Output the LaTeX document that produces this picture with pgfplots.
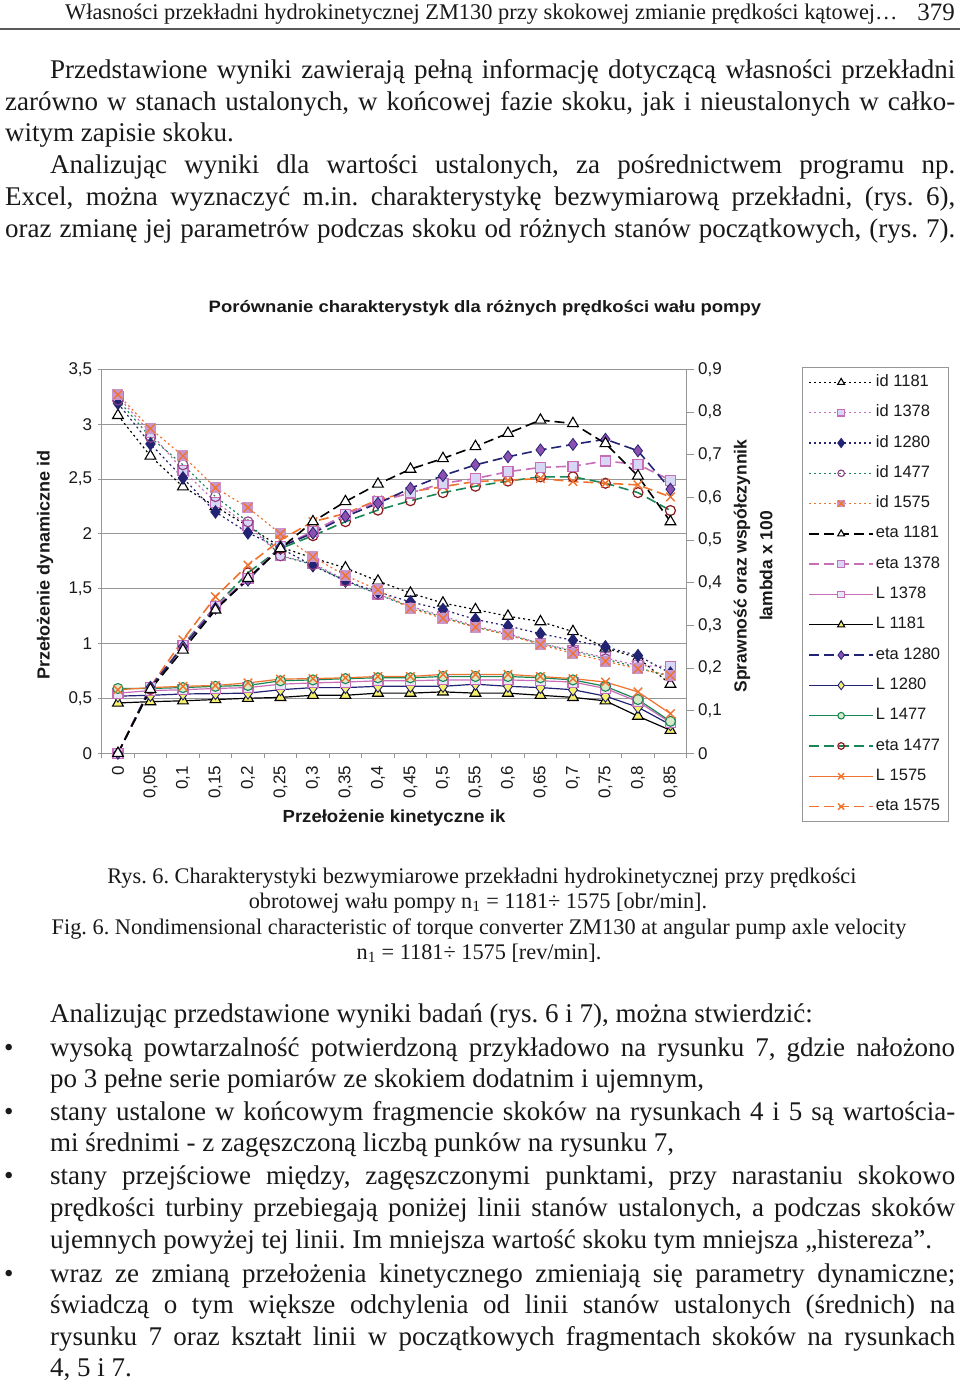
\documentclass[border=0pt]{standalone}
\usepackage{fontspec}
\setmainfont{Liberation Serif}
\newfontfamily\arial{Liberation Sans}
\usepackage{graphicx}
\usepackage{pgfplots}
\usepackage{pgfplotstable}
\pgfplotsset{compat=1.18}

\definecolor{c1378}{RGB}{200,110,185}
\definecolor{c1280}{RGB}{35,35,115}
\definecolor{c1477}{RGB}{25,135,85}
\definecolor{c1575}{RGB}{240,115,45}
\definecolor{axgray}{RGB}{150,150,150}
\definecolor{sqpink}{RGB}{200,150,205}
\definecolor{lav}{RGB}{215,215,245}
\definecolor{purp}{RGB}{140,80,175}
\definecolor{yel}{RGB}{245,240,110}
\definecolor{dred}{RGB}{140,25,30}
\definecolor{lgreen}{RGB}{215,235,200}
\definecolor{txt}{RGB}{25,25,25}

\pgfdeclareplotmark{sqx}{%
  \pgfsetfillcolor{sqpink}%
  \pgfpathrectangle{\pgfqpoint{-\pgfplotmarksize}{-\pgfplotmarksize}}{\pgfqpoint{2\pgfplotmarksize}{2\pgfplotmarksize}}%
  \pgfusepath{fill}%
  \pgfsetstrokecolor{c1575}%
  \pgfpathmoveto{\pgfqpoint{-.8\pgfplotmarksize}{-.8\pgfplotmarksize}}\pgfpathlineto{\pgfqpoint{.8\pgfplotmarksize}{.8\pgfplotmarksize}}%
  \pgfpathmoveto{\pgfqpoint{-.8\pgfplotmarksize}{.8\pgfplotmarksize}}\pgfpathlineto{\pgfqpoint{.8\pgfplotmarksize}{-.8\pgfplotmarksize}}%
  \pgfusepath{stroke}%
}

\pgfplotstableread{
x i1181 i1378 i1280 i1477 i1575
0 3.08 3.25 3.19 3.22 3.27
1 2.71 2.92 2.82 2.88 2.96
2 2.43 2.58 2.51 2.63 2.71
3 2.25 2.29 2.20 2.34 2.42
4 2.07 2.08 2.01 2.11 2.24
5 1.88 1.80 1.87 1.80 2.00
6 1.78 1.73 1.71 1.72 1.79
7 1.69 1.58 1.57 1.57 1.62
8 1.57 1.45 1.47 1.45 1.49
9 1.46 1.34 1.38 1.33 1.32
10 1.37 1.25 1.31 1.24 1.23
11 1.31 1.16 1.22 1.15 1.15
12 1.25 1.09 1.16 1.08 1.08
13 1.20 1.00 1.09 1.00 0.99
14 1.11 0.94 1.03 0.93 0.91
15 0.96 0.87 0.97 0.86 0.84
16 0.87 0.80 0.89 0.78 0.77
17 0.63 0.79 0.73 0.70 0.71
}\idtab

\pgfplotstableread{
x e1181 e1378 e1280 e1477 e1575
0 0 0 0 0 0
1 0.150 0.155 0.155 0.150 0.156
2 0.242 0.252 0.250 0.254 0.266
3 0.336 0.345 0.340 0.345 0.367
4 0.410 0.410 0.406 0.423 0.441
5 0.480 0.484 0.484 0.480 0.500
6 0.543 0.520 0.516 0.510 0.543
7 0.590 0.560 0.555 0.543 0.562
8 0.631 0.590 0.586 0.570 0.594
9 0.666 0.610 0.621 0.592 0.613
10 0.691 0.633 0.651 0.611 0.625
11 0.719 0.644 0.676 0.626 0.637
12 0.750 0.660 0.695 0.638 0.640
13 0.781 0.670 0.711 0.648 0.644
14 0.773 0.673 0.724 0.648 0.637
15 0.726 0.685 0.736 0.633 0.633
16 0.650 0.677 0.709 0.611 0.629
17 0.543 0.640 0.619 0.569 0.601
}\etatab

\pgfplotstableread{
x l1181 l1378 l1280 l1477 l1575
0 0.118 0.141 0.134 0.152 0.149
1 0.121 0.147 0.136 0.152 0.154
2 0.123 0.149 0.139 0.154 0.157
3 0.126 0.152 0.140 0.157 0.159
4 0.129 0.154 0.141 0.159 0.165
5 0.131 0.162 0.149 0.170 0.174
6 0.136 0.165 0.154 0.172 0.175
7 0.136 0.167 0.154 0.175 0.177
8 0.141 0.170 0.157 0.177 0.180
9 0.141 0.170 0.157 0.177 0.180
10 0.144 0.172 0.157 0.180 0.185
11 0.141 0.172 0.162 0.180 0.185
12 0.141 0.172 0.157 0.180 0.185
13 0.136 0.170 0.154 0.177 0.180
14 0.131 0.167 0.149 0.172 0.175
15 0.123 0.152 0.134 0.157 0.167
16 0.087 0.121 0.108 0.126 0.144
17 0.054 0.072 0.067 0.075 0.093
}\ltab

\pgfplotsset{
  dotl/.style={line width=1.2pt, dash pattern=on 2pt off 3pt},
  dashl/.style={line width=1.6pt, dash pattern=on 10pt off 5pt},
  solidl/.style={line width=1.2pt, solid},
  sId1181/.style={dotl, color=black, mark=triangle*, mark size=6.2pt, mark options={solid, fill=white, draw=black, line width=1.1pt}},
  sId1378/.style={dotl, color=c1378, mark=square*, mark size=5pt, mark options={solid, fill=lav, draw=c1378, line width=1.1pt}},
  sId1280/.style={dotl, color=c1280, mark=diamond*, mark size=6pt, mark options={solid, fill=c1280, draw=c1280}},
  sId1477/.style={dotl, color=c1477, mark=o, mark size=5pt, mark options={solid, draw=purp!70!dred, fill=white, line width=1.1pt}},
  sId1575/.style={dotl, color=c1575, mark=sqx, mark size=5.5pt, mark options={solid, line width=1.3pt}},
  sE1181/.style={dashl, color=black, mark=triangle*, mark size=6.2pt, mark options={solid, fill=white, draw=black, line width=1.1pt}},
  sE1378/.style={dashl, color=c1378, mark=square*, mark size=5pt, mark options={solid, fill=lav, draw=c1378, line width=1.1pt}},
  sE1280/.style={dashl, color=c1280, mark=diamond*, mark size=6pt, mark options={solid, fill=purp, draw=c1280, line width=0.8pt}},
  sE1477/.style={dashl, color=c1477, mark=o, mark size=5pt, mark options={solid, draw=dred, fill=white, line width=1.2pt}},
  sE1575/.style={dashl, color=c1575, mark=x, mark size=6pt, mark options={solid, draw=c1575, line width=1.4pt}},
  sL1378/.style={solidl, color=c1378, mark=square*, mark size=5pt, mark options={solid, fill=lav!60!white, draw=c1378, line width=1.1pt}},
  sL1181/.style={solidl, color=black, mark=triangle*, mark size=6.2pt, mark options={solid, fill=yel, draw=black, line width=1.1pt}},
  sL1280/.style={solidl, color=c1280, mark=diamond*, mark size=6pt, mark options={solid, fill=yel, draw=c1280, line width=0.9pt}},
  sL1477/.style={solidl, color=c1477, mark=*, mark size=5pt, mark options={solid, fill=lgreen, draw=c1477, line width=1.1pt}},
  sL1575/.style={solidl, color=c1575, mark=x, mark size=6pt, mark options={solid, draw=c1575, line width=1.4pt}},
}

\newcommand\body{\fontsize{27}{32}\selectfont}
\newcommand\capt{\fontsize{22.3}{26}\selectfont}
\newcommand\tl{\arial\fontsize{17}{20}\selectfont}
\newcommand\lab{\arial\bfseries\fontsize{17.5}{20}\selectfont}

\begin{document}
\frenchspacing
\begin{tikzpicture}[x=1pt,y=1pt]
\path[use as bounding box] (0,0) rectangle (960,-1380);
\fill[white] (0,0) rectangle (960,-1380);

% header
\node[anchor=base west, inner sep=0pt, text=txt] at (65,-20) {\fontsize{22.4}{26}\selectfont Własności przekładni hydrokinetycznej ZM130 przy skokowej zmianie prędkości kątowej…};
\node[anchor=base east, inner sep=0pt, text=txt] at (955,-21) {\fontsize{25}{28}\selectfont 379};
\draw[line width=2pt, black!65] (0,-29.5) -- (960,-29.5);

% top paragraphs
\begin{scope}[every node/.style={anchor=base west, inner sep=0pt, text=txt, font=\body}]
\node at (50,-79) {\makebox[905pt][s]{Przedstawione wyniki zawierają pełną informację dotyczącą własności przekładni}};
\node at (5,-110.5) {\makebox[950pt][s]{zarówno w stanach ustalonych, w końcowej fazie skoku, jak i nieustalonych w całko-}};
\node at (5,-142) {witym zapisie skoku.};
\node at (50,-174) {\makebox[905pt][s]{Analizując wyniki dla wartości ustalonych, za pośrednictwem programu np.}};
\node at (5,-205.5) {\makebox[950pt][s]{Excel, można wyznaczyć m.in. charakterystykę bezwymiarową przekładni, (rys. 6),}};
\node at (5,-237) {\makebox[950pt][s]{oraz zmianę jej parametrów podczas skoku od różnych stanów początkowych, (rys. 7).}};
\end{scope}

% chart texts
\node[font=\arial\bfseries\fontsize{16.5}{19}\selectfont, text=txt] at (485,-308) {\scalebox{1.12}[1]{Porównanie charakterystyk dla różnych prędkości wału pompy}};
\node[rotate=90, font=\lab, text=txt] at (45,-565) {\scalebox{1.03}[1]{Przełożenie dynamiczne id}};
\node[rotate=90, font=\lab, text=txt] at (742,-566) {Sprawność oraz współczynnik};
\node[rotate=90, font=\lab, text=txt] at (766,-566) {lambda x 100};
\node[font=\lab, text=txt] at (394,-818) {\scalebox{1.06}[1]{Przełożenie kinetyczne ik}};

\begin{axis}[
  at={(101.7pt,-753.3pt)}, anchor=south west,
  scale only axis, width=585pt, height=384pt,
  xmin=-0.5, xmax=17.5, ymin=0, ymax=3.5,
  axis line style={draw=axgray, line width=1pt},
  tick align=outside, tick pos=left,
  xtick={0,...,17},
  xticklabels={0,{0,05},{0,1},{0,15},{0,2},{0,25},{0,3},{0,35},{0,4},{0,45},{0,5},{0,55},{0,6},{0,65},{0,7},{0,75},{0,8},{0,85}},
  major x tick style={draw=none},
  minor xtick={-0.5,0.5,...,17.5},
  minor tick length=5pt,
  minor x tick style={draw=axgray, line width=0.9pt},
  ytick={0,0.5,1,1.5,2,2.5,3,3.5},
  major tick length=4pt,
  major y tick style={draw=axgray, line width=0.9pt},
  ymajorgrids, grid style={draw=axgray, line width=0.9pt},
  /pgf/number format/use comma,
  /pgf/number format/assume math mode=true,
  yticklabel style={font=\tl, text=txt, xshift=-2pt},
  xticklabel style={font=\tl, text=txt, rotate=90, anchor=east, xshift=-5pt},
  clip=false,
]
\addplot[sId1181] table[x=x,y=i1181]{\idtab};
\addplot[sId1378] table[x=x,y=i1378]{\idtab};
\addplot[sId1280] table[x=x,y=i1280]{\idtab};
\addplot[sId1477] table[x=x,y=i1477]{\idtab};
\addplot[sId1575] table[x=x,y=i1575]{\idtab};
\end{axis}

\begin{axis}[
  at={(101.7pt,-753.3pt)}, anchor=south west,
  scale only axis, width=585pt, height=384pt,
  xmin=-0.5, xmax=17.5, ymin=0, ymax=0.9,
  axis x line=none, axis y line*=right,
  axis line style={draw=axgray, line width=1pt, -},
  tick align=outside,
  ytick={0,0.1,0.2,0.3,0.4,0.5,0.6,0.7,0.8,0.9},
  major tick length=7pt,
  major y tick style={draw=axgray, line width=0.9pt},
  /pgf/number format/.cd, fixed, precision=1, use comma, assume math mode=true,
  /pgfplots/.cd,
  yticklabel style={font=\tl, text=txt, xshift=1pt},
  clip=false,
  legend style={at={(1.197,1.006)}, anchor=north west, draw=axgray, line width=0.8pt, fill=white,
    font=\arial\fontsize{16.5}{19}\selectfont, text=txt, inner sep=6pt, row sep=12.3pt,
    nodes={inner sep=2pt, text height=11pt, text depth=3pt}},
  legend cell align=left,
  /tikz/every even column/.append style={column sep=3pt},
  legend image code/.code={\draw[mark repeat=2,mark phase=2,#1] plot coordinates {(0pt,0pt) (32pt,0pt) (64pt,0pt)};},
]
\addplot[sL1181, forget plot] table[x=x,y=l1181]{\ltab};
\addplot[sL1280, forget plot] table[x=x,y=l1280]{\ltab};
\addplot[sL1378, forget plot] table[x=x,y=l1378]{\ltab};
\addplot[sL1477, forget plot] table[x=x,y=l1477]{\ltab};
\addplot[sL1575, forget plot] table[x=x,y=l1575]{\ltab};
\addplot[sE1477, forget plot] table[x=x,y=e1477]{\etatab};
\addplot[sE1575, forget plot] table[x=x,y=e1575]{\etatab};
\addplot[sE1378, forget plot] table[x=x,y=e1378]{\etatab};
\addplot[sE1280, forget plot] table[x=x,y=e1280]{\etatab};
\addplot[sE1181, forget plot] table[x=x,y=e1181]{\etatab};

\addlegendimage{sId1181, mark size=4pt}\addlegendentry{id 1181}
\addlegendimage{sId1378, mark size=3.3pt}\addlegendentry{id 1378}
\addlegendimage{sId1280, mark size=4.3pt}\addlegendentry{id 1280}
\addlegendimage{sId1477, mark size=3.3pt}\addlegendentry{id 1477}
\addlegendimage{sId1575, mark size=3.8pt}\addlegendentry{id 1575}
\addlegendimage{sE1181, mark size=4pt}\addlegendentry{eta 1181}
\addlegendimage{sE1378, mark size=3.3pt}\addlegendentry{eta 1378}
\addlegendimage{sL1378, mark size=3.3pt}\addlegendentry{L 1378}
\addlegendimage{sL1181, mark size=4pt}\addlegendentry{L 1181}
\addlegendimage{sE1280, mark size=4.3pt}\addlegendentry{eta 1280}
\addlegendimage{sL1280, mark size=4.3pt}\addlegendentry{L 1280}
\addlegendimage{sL1477, mark size=3.3pt}\addlegendentry{L 1477}
\addlegendimage{sE1477, mark size=3.3pt}\addlegendentry{eta 1477}
\addlegendimage{sL1575, mark size=4.3pt}\addlegendentry{L 1575}
\addlegendimage{sE1575, mark size=4.3pt}\addlegendentry{eta 1575}
\end{axis}

% caption
\begin{scope}[every node/.style={anchor=base, inner sep=0pt, text=txt, font=\capt}]
\node at (482,-883) {Rys. 6. Charakterystyki bezwymiarowe przekładni hydrokinetycznej przy prędkości};
\node at (478,-908.5) {obrotowej wału pompy n\textsubscript{1} = 1181÷ 1575 [obr/min].};
\node at (479,-934) {Fig. 6. Nondimensional characteristic of torque converter ZM130 at angular pump axle velocity};
\node at (479,-959.5) {n\textsubscript{1} = 1181÷ 1575 [rev/min].};
\end{scope}

% bottom text
\begin{scope}[every node/.style={anchor=base west, inner sep=0pt, text=txt, font=\body}]
\node at (50,-1022.5) {Analizując przedstawione wyniki badań (rys. 6 i 7), można stwierdzić:};
\node at (4,-1056) {•};
\node at (50,-1056) {\makebox[905pt][s]{wysoką powtarzalność potwierdzoną przykładowo na rysunku 7, gdzie nałożono}};
\node at (50,-1087.5) {po 3 pełne serie pomiarów ze skokiem dodatnim i ujemnym,};
\node at (4,-1120) {•};
\node at (50,-1120) {\makebox[905pt][s]{stany ustalone w końcowym fragmencie skoków na rysunkach 4 i 5 są wartościa-}};
\node at (50,-1151.5) {mi średnimi - z zagęszczoną liczbą punków na rysunku 7,};
\node at (4,-1184.5) {•};
\node at (50,-1184.5) {\makebox[905pt][s]{stany przejściowe między, zagęszczonymi punktami, przy narastaniu skokowo}};
\node at (50,-1216) {\makebox[905pt][s]{prędkości turbiny przebiegają poniżej linii stanów ustalonych, a podczas skoków}};
\node at (50,-1248) {ujemnych powyżej tej linii. Im mniejsza wartość skoku tym mniejsza „histereza”.};
\node at (4,-1282) {•};
\node at (50,-1282) {\makebox[905pt][s]{wraz ze zmianą przełożenia kinetycznego zmieniają się parametry dynamiczne;}};
\node at (50,-1313.5) {\makebox[905pt][s]{świadczą o tym większe odchylenia od linii stanów ustalonych (średnich) na}};
\node at (50,-1345) {\makebox[905pt][s]{rysunku 7 oraz kształt linii w początkowych fragmentach skoków na rysunkach}};
\node at (50,-1376) {4, 5 i 7.};
\end{scope}
\end{tikzpicture}
\end{document}
